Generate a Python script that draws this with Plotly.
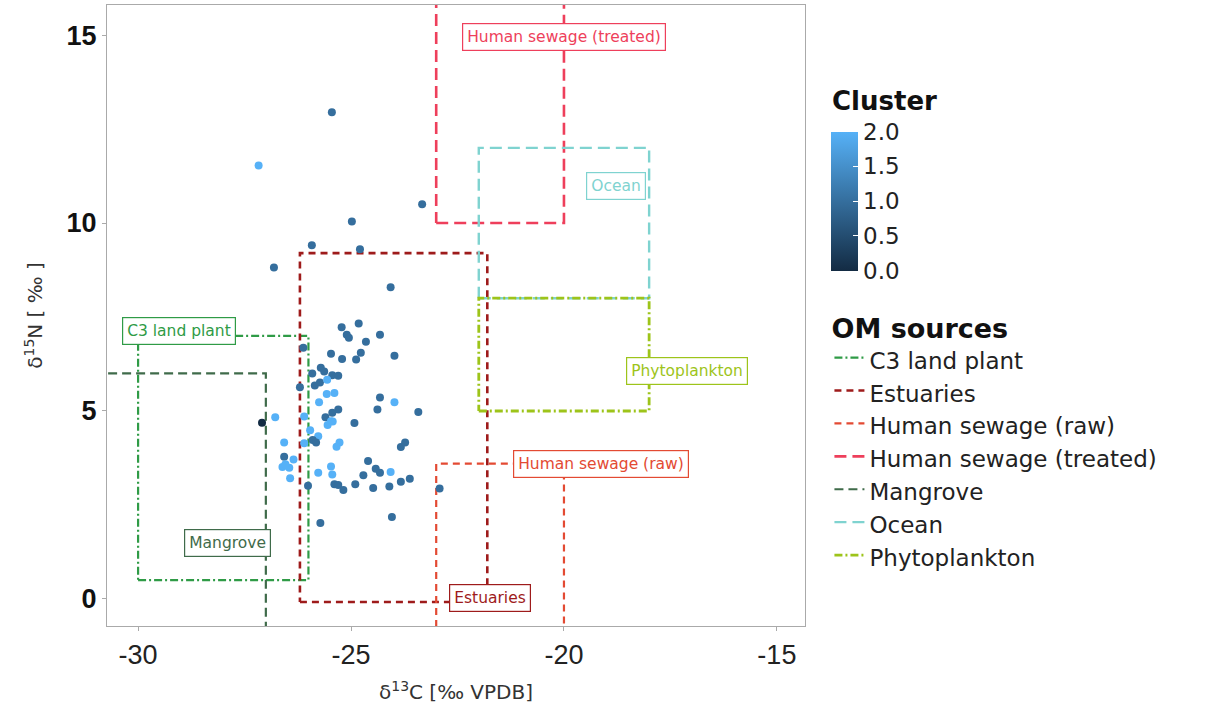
import plotly.graph_objects as go

# ---- data ----
d13C = [-25.45, -27.17, -23.33, -24.98, -25.92, -24.79, -26.81, -24.07,
        -25.22, -24.82, -25.10, -25.05, -24.65, -24.32, -25.47, -25.21, -24.77, -24.88, -23.98,
        -26.12, -25.91, -25.71, -25.63, -25.44, -25.30, -26.20, -25.85, -25.73, -25.56, -25.57,
        -25.39, -25.75, -24.32, -24.38, -23.98, -23.42, -25.30, -25.44, -25.60, -25.47, -25.55,
        -25.43, -24.92, -26.78, -27.09, -26.10, -25.96, -25.77, -25.90, -25.82, -26.10, -25.27,
        -25.34, -26.57, -26.57, -26.35, -26.61, -26.45, -26.54, -26.43, -23.83, -23.73, -24.60,
        -24.42, -24.32, -24.71, -24.07, -25.47, -25.44, -25.77, -25.39, -25.30, -25.18, -24.90,
        -24.48, -24.10, -23.83, -23.62, -26.01, -22.92, -24.04, -25.72]
d15N = [12.95, 11.53, 10.50, 10.04, 9.41, 9.30, 8.82, 8.29,
        7.23, 7.33, 7.03, 6.95, 6.84, 7.03, 6.52, 6.38, 6.55, 6.37, 6.47,
        6.68, 6.00, 6.15, 6.05, 5.95, 5.94, 5.63, 5.68, 5.76, 5.83, 5.45,
        5.48, 5.23, 5.36, 5.04, 5.23, 4.97, 5.04, 4.95, 4.83, 4.73, 4.63,
        4.72, 4.68, 4.83, 4.69, 4.85, 4.49, 4.33, 4.23, 4.16, 4.14, 4.16,
        4.05, 4.16, 3.78, 3.71, 3.51, 3.49, 3.58, 3.21, 4.04, 4.16, 3.67,
        3.46, 3.36, 3.29, 3.38, 3.52, 3.31, 3.36, 3.05, 3.03, 2.90, 3.05,
        2.95, 2.99, 3.12, 3.20, 3.01, 2.94, 2.18, 2.02]
cluster = [1, 2, 1, 1, 1, 1, 1, 1,
           1, 1, 1, 1, 1, 1, 1, 1, 1, 1, 1,
           1, 1, 1, 1, 1, 1, 1, 1, 1, 2, 2,
           2, 2, 1, 1, 2, 1, 1, 1, 1, 2, 2,
           2, 1, 2, 0, 2, 2, 2, 1, 1, 2, 2,
           2, 2, 1, 2, 2, 2, 2, 2, 1, 1, 1,
           1, 1, 1, 2, 2, 2, 2, 1, 1, 1, 1,
           1, 1, 1, 1, 1, 1, 1, 1]

sources = ["C3 land plant", "Estuaries", "Human sewage (raw)", "Human sewage (treated)",
           "Mangrove", "Ocean", "Phytoplankton"]
src_xmin = [-30.0, -26.2, -23.0, -23.0, -32.0, -22.0, -22.0]
src_xmax = [-26.0, -21.8, -20.0, -20.0, -27.0, -18.0, -18.0]
src_ymin = [0.5, -0.08, -3.0, 10.0, -3.0, 8.0, 5.0]
src_ymax = [7.0, 9.2, 3.6, 18.0, 6.0, 12.0, 8.0]
src_label_x = [-29.04, -21.74, -19.13, -20.0, -27.9, -18.78, -17.1]
src_label_y = [7.13, 0.03, 3.6, 14.96, 1.49, 10.98, 6.07]

src_colors = ["#2F9B46", "#9E1B1B", "#E34A33", "#EE3F5B", "#3F6B4A", "#7FD3D0", "#9DC41A"]
src_dash = ["8px,3px,2px,3px", "7px,5px", "7px,5px", "12px,6px", "9px,5px", "12px,6px", "8px,3px,2px,3px"]
src_width = [2.2, 2.6, 2.2, 2.6, 2.2, 2.4, 2.8]

x_range = [-30.73, -14.34]
y_range = [-0.72, 15.8]
x_ticks = [-30, -25, -20, -15]
x_ticktext = ["-30", "-25", "-20", "-15"]
y_ticks = [0, 5, 10, 15]
cb_ticks = [0, 0.5, 1, 1.5, 2]
cb_ticktext = ["0.0", "0.5", "1.0", "1.5", "2.0"]

WIDE = "DejaVu Sans"

fig = go.Figure()

for i, name in enumerate(sources):
    x0, x1, y0, y1 = src_xmin[i], src_xmax[i], src_ymin[i], src_ymax[i]
    fig.add_trace(go.Scatter(
        x=[x0, x1, x1, x0, x0], y=[y0, y0, y1, y1, y0],
        mode="lines", fill="toself", fillcolor="rgba(0,0,0,0)",
        line=dict(color=src_colors[i], dash=src_dash[i], width=src_width[i]),
        name=name, hoverinfo="skip", showlegend=True,
    ))

fig.add_trace(go.Scatter(
    x=d13C, y=d15N, mode="markers", showlegend=False,
    marker=dict(size=8, color=cluster, cmin=0, cmax=2,
                colorscale=[[0, "#132B43"], [1, "#56B1F7"]],
                colorbar=dict(
                    tickvals=cb_ticks, ticktext=cb_ticktext,
                    ticks="inside", tickcolor="white", ticklen=5,
                    tickfont=dict(size=23, color="#222", family=WIDE),
                    thickness=27, lenmode="pixels", len=139,
                    x=1.035, xanchor="left", y=0.796, yanchor="top",
                    outlinewidth=0, ypad=0, xpad=2,
                )),
))

for i, name in enumerate(sources):
    fig.add_annotation(
        x=src_label_x[i], y=src_label_y[i], text=name, showarrow=False,
        font=dict(size=15.5, color=src_colors[i], family=WIDE),
        bgcolor="white", bordercolor=src_colors[i], borderwidth=1.2, borderpad=4,
    )

fig.add_annotation(
    x=1.036, y=0.845, xref="paper", yref="paper", xanchor="left", yanchor="middle",
    text="Cluster", showarrow=False,
    font=dict(size=26, color="#111", weight="bold", family=WIDE),
)

fig.update_layout(
    width=1214, height=715,
    margin=dict(l=107, r=409, t=5, b=89),
    plot_bgcolor="white", paper_bgcolor="white",
    font=dict(family="Liberation Sans"),
    legend=dict(
        title=dict(text="OM sources", font=dict(size=27, color="#111", weight="bold", family=WIDE)),
        font=dict(size=23, color="#222", family=WIDE),
        x=1.035, xanchor="left", y=0.52, yanchor="top",
        itemwidth=30, tracegroupgap=0,
    ),
    xaxis=dict(
        range=x_range, tickvals=x_ticks, ticktext=x_ticktext, showgrid=False, zeroline=False,
        showline=True, linecolor="#aaaaaa", linewidth=1.2, mirror=True,
        ticks="outside", ticklen=4, tickcolor="#aaaaaa",
        tickfont=dict(size=27, color="#222"),
        title=dict(text="δ<sup>13</sup>C [‰ VPDB]", font=dict(size=20, color="#333", family=WIDE), standoff=16),
    ),
    yaxis=dict(
        range=y_range, tickvals=y_ticks, showgrid=False, zeroline=False,
        showline=True, linecolor="#aaaaaa", linewidth=1.2, mirror=True,
        ticks="outside", ticklen=4, tickcolor="#aaaaaa",
        tickfont=dict(size=27, color="#111", weight="bold"),
        title=dict(text="δ<sup>15</sup>N [ ‰ ]", font=dict(size=20, color="#333", family=WIDE), standoff=18),
    ),
)

fig.write_html("out.html")
